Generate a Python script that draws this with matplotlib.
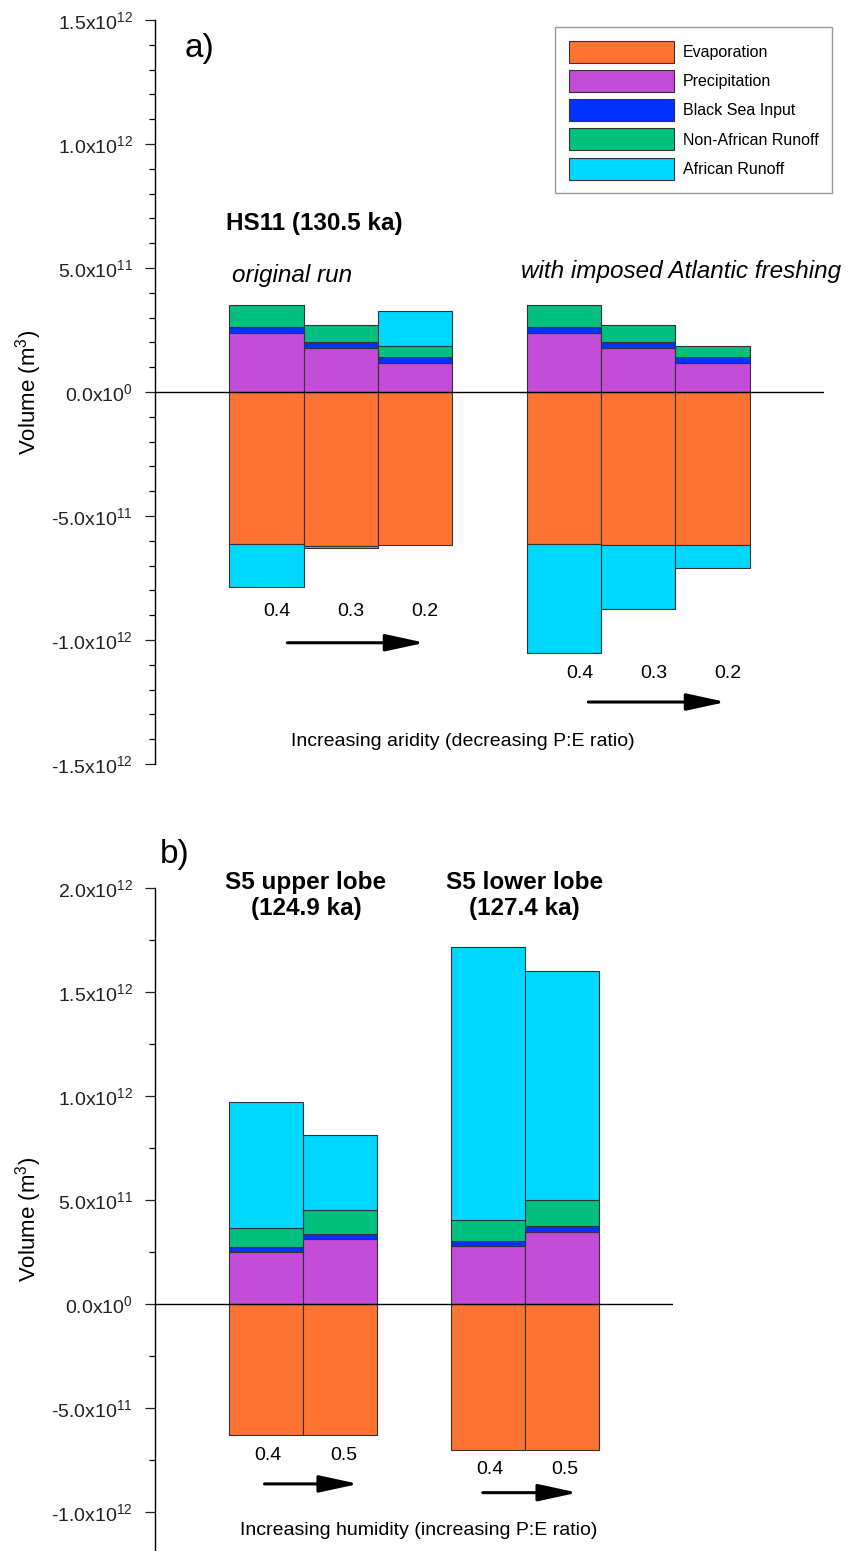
import numpy as np
import matplotlib
matplotlib.use('Agg')
import matplotlib.pyplot as plt
from matplotlib.ticker import FixedLocator, FuncFormatter, MultipleLocator

plt.rcParams['font.family'] = ['Liberation Sans', 'DejaVu Sans']
plt.rcParams['mathtext.fontset'] = 'custom'
plt.rcParams['mathtext.rm'] = 'Liberation Sans'
plt.rcParams['mathtext.default'] = 'regular'

# volumes in units of 1e11 m^3
UNIT = 1e11
names = ['Evaporation', 'Precipitation', 'Black Sea Input', 'Non-African Runoff', 'African Runoff']
colors = ['#ff7332', '#c34cd8', '#0033ff', '#00c080', '#00d8ff']

# panel a: HS11, original run (0.4, 0.3, 0.2) and with Atlantic freshening (0.4, 0.3, 0.2)
ratio_a = ['0.4', '0.3', '0.2', '0.4', '0.3', '0.2']
evap_a = [-6.14, -6.19, -6.17, -6.14, -6.15, -6.17]
precip_a = [2.37, 1.79, 1.16, 2.37, 1.79, 1.16]
blacksea_a = [0.24, 0.22, 0.25, 0.24, 0.22, 0.25]
nonafr_a = [0.89, 0.68, 0.43, 0.89, 0.68, 0.43]
afr_a = [-1.72, -0.09, 1.43, -4.40, -2.58, -0.94]

# panel b: S5 upper lobe (0.4, 0.5) and S5 lower lobe (0.4, 0.5)
ratio_b = ['0.4', '0.5', '0.4', '0.5']
evap_b = [-6.31, -6.31, -7.03, -7.03]
precip_b = [2.48, 3.12, 2.77, 3.48]
blacksea_b = [0.26, 0.26, 0.24, 0.29]
nonafr_b = [0.90, 1.12, 1.01, 1.22]
afr_b = [6.09, 3.62, 13.14, 11.02]

yticks_a = [-1.5e12, -1.0e12, -5e11, 0, 5e11, 1.0e12, 1.5e12]
yticks_b = [-1.0e12, -5e11, 0, 5e11, 1.0e12, 1.5e12, 2.0e12]


def sci_label(v, pos=None):
    if v == 0:
        return '0.0x10$^{0}$'
    e = int(np.floor(np.log10(abs(v)) + 1e-9))
    m = v / 10 ** e
    return '%.1fx10$^{%d}$' % (m, e)


def positions(groups):
    xs, x = [], 0
    for n in groups:
        xs += list(range(x, x + n))
        x += n + 1
    return np.array(xs, dtype=float)


def stack(ax, x, evap, precip, bsea, nonafr, afr):
    evap, precip, bsea, nonafr, afr = [np.array(v) * UNIT for v in (evap, precip, bsea, nonafr, afr)]
    kw = dict(width=1.0, edgecolor='#333333', linewidth=0.8)
    bars = []
    bars.append(ax.bar(x, evap, color=colors[0], **kw))
    bars.append(ax.bar(x, precip, color=colors[1], **kw))
    bars.append(ax.bar(x, bsea, bottom=precip, color=colors[2], **kw))
    top = precip + bsea
    bars.append(ax.bar(x, nonafr, bottom=top, color=colors[3], **kw))
    top = top + nonafr
    bottom = np.where(afr >= 0, top, evap)
    bars.append(ax.bar(x, afr, bottom=bottom, color=colors[4], **kw))
    return bars


def style_axis(ax, ticks, minor):
    for s in ['top', 'right', 'bottom']:
        ax.spines[s].set_visible(False)
    ax.spines['left'].set_linewidth(1.0)
    ax.set_xticks([])
    ax.yaxis.set_major_locator(FixedLocator(ticks))
    ax.yaxis.set_major_formatter(FuncFormatter(sci_label))
    ax.yaxis.set_minor_locator(MultipleLocator(minor))
    ax.tick_params(axis='y', which='major', length=7, width=0.9, labelsize=14, pad=9, colors='#222222')
    ax.tick_params(axis='y', which='minor', length=4.5, width=0.9)
    ax.axhline(0, color='black', lw=1.0, zorder=5)


def arrow(ax, x0, x1, y):
    ax.annotate('', xy=(x1, y), xytext=(x0, y), annotation_clip=False,
                arrowprops=dict(arrowstyle='-|>,head_length=1.2,head_width=0.26',
                                mutation_scale=20, lw=2.2, color='black',
                                shrinkA=0, shrinkB=0))


fig = plt.figure(figsize=(8.52, 15.51), dpi=100)

# ---------- panel a ----------
ax = fig.add_axes([0.1819, 0.5074, 0.7852, 0.4797])
xa = positions([3, 3])
bars = stack(ax, xa, evap_a, precip_a, blacksea_a, nonafr_a, afr_a)
ax.set_xlim(-1.5, 7.5)
ax.set_ylim(-1.5e12, 1.5e12)
style_axis(ax, yticks_a, 1e11)
ax.set_ylabel('Volume (m$^{3}$)', fontsize=16)
ax.yaxis.set_label_coords(-0.166, 0.5)

ax.text(-0.9, 1.387e12, 'a)', fontsize=24, ha='center', va='center')
ax.text(-0.54, 0.681e12, 'HS11 (130.5 ka)', fontsize=17.5, fontweight='bold', va='center')
ax.text(-0.47, 0.468e12, 'original run', fontsize=17.5, style='italic', va='center')
ax.text(5.58, 0.484e12, 'with imposed Atlantic freshing', fontsize=17.5, style='italic',
        ha='center', va='center', clip_on=False)

off_a = [0.135, 0.135, 0.135, 0.21, 0.21, 0.21]
ylab_a = [-0.887e12] * 3 + [-1.133e12] * 3
for xi, o, yl, r in zip(xa, off_a, ylab_a, ratio_a):
    ax.text(xi + o, yl, r, fontsize=14, ha='center', va='center')
arrow(ax, 0.28, 2.13, -1.011e12)
arrow(ax, 4.33, 6.18, -1.25e12)
ax.text(2.64, -1.411e12, 'Increasing aridity (decreasing P:E ratio)', fontsize=14,
        ha='center', va='center')

leg = ax.legend([b[0] for b in bars], names, loc='upper left', bbox_to_anchor=(0.598, 0.9906),
                borderaxespad=0, fancybox=False, framealpha=1, edgecolor='#999999',
                prop={'size': 11.5}, handlelength=6.6, handleheight=1.75,
                handletextpad=0.55, labelspacing=0.45, borderpad=0.85)
leg.get_frame().set_linewidth(1.0)

# ---------- panel b ----------
ax = fig.add_axes([0.1819, 0.0, 0.608, 0.4275])
xb = positions([2, 2])
stack(ax, xb, evap_b, precip_b, blacksea_b, nonafr_b, afr_b)
ax.set_xlim(-1.5, 5.5)
ax.set_ylim(-1.1875e12, 2.0e12)
style_axis(ax, yticks_b, 2.5e11)
ax.set_ylabel('Volume (m$^{3}$)', fontsize=16)
ax.yaxis.set_label_coords(-0.214, 0.5)

ax.text(-1.24, 2.16e12, 'b)', fontsize=24, ha='center', va='center', clip_on=False)
ax.text(0.54, 1.965e12, 'S5 upper lobe\n(124.9 ka)', fontsize=17.5, fontweight='bold',
        ha='center', va='center', linespacing=1.15, clip_on=False)
ax.text(3.49, 1.965e12, 'S5 lower lobe\n(127.4 ka)', fontsize=17.5, fontweight='bold',
        ha='center', va='center', linespacing=1.15, clip_on=False)

off_b = [0.03, 0.05, 0.02, 0.04]
ylab_b = [-0.726e12] * 2 + [-0.798e12] * 2
for xi, o, yl, r in zip(xb, off_b, ylab_b, ratio_b):
    ax.text(xi + o, yl, r, fontsize=14, ha='center', va='center')
arrow(ax, -0.02, 1.25, -0.865e12)
arrow(ax, 2.93, 4.21, -0.907e12)
ax.text(2.07, -1.087e12, 'Increasing humidity (increasing P:E ratio)', fontsize=14,
        ha='center', va='center')

fig.savefig('out.png', dpi=100)
